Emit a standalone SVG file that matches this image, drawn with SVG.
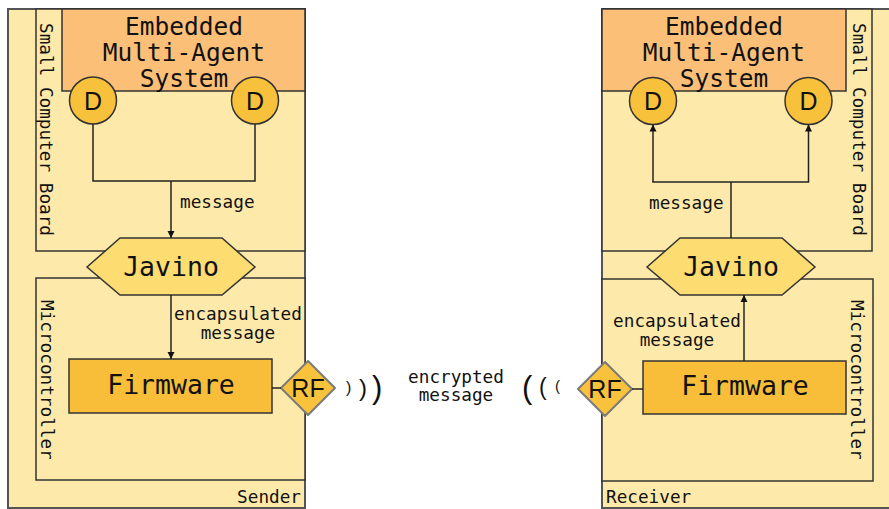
<svg xmlns="http://www.w3.org/2000/svg" width="889" height="509" viewBox="0 0 889 509">
  <defs>
    <marker id="arrow" viewBox="0 0 10 10" refX="10" refY="5" markerWidth="7" markerHeight="10" markerUnits="userSpaceOnUse" orient="auto">
      <path d="M0,0 L10,5 L0,10 Z" fill="#111"/>
    </marker>
    <style>
      .board { fill: #FDE9AA; stroke: #333; stroke-width: 1.5; }
      .outer { fill: #FDE9AA; stroke: #555; stroke-width: 2; }
      .mas { fill: #FCBF78; stroke: #333; stroke-width: 1.5; }
      .dev { fill: #F8C13B; stroke: #333; stroke-width: 1.5; }
      .fw { fill: #F8BE3A; stroke: #333; stroke-width: 1.5; }
      .jav { fill: #FDDC72; stroke: #333; stroke-width: 1.5; }
      .rf { fill: #F9C23C; stroke: #7a7a7a; stroke-width: 2; stroke-linejoin: round; }
      .wire { fill: none; stroke: #222; stroke-width: 1.5; }
      .mono { font-family: "DejaVu Sans Mono", "Liberation Mono", monospace; fill: #111; }
      .sans { font-family: "Liberation Sans", Arial, sans-serif; fill: #111; }
      .big { font-size: 24.5px; }
      .mid { font-size: 26.5px; }
      .small { font-size: 17.7px; }
      .glyph { font-size: 25px; }
      .c { text-anchor: middle; }
    </style>
  </defs>

  <!-- Sender side -->
  <g id="sender">
    <rect class="outer" x="8" y="9" width="297" height="499"/>
    <text class="mono small" x="301" y="503" text-anchor="end">Sender</text>
  </g>
  <g id="sender-board">
    <rect class="board" x="36" y="9" width="269" height="242"/>
    <text class="mono small" transform="translate(40,23) rotate(90)">Small Computer Board</text>
  </g>
  <g id="sender-mas">
    <rect class="mas" x="62" y="9" width="243" height="82"/>
    <text class="mono big c"><tspan x="184" y="35">Embedded</tspan><tspan x="184" y="61">Multi-Agent</tspan><tspan x="184" y="87">System</tspan></text>
  </g>
  <g id="sender-d1">
    <circle class="dev" cx="93" cy="100.5" r="23.5"/>
    <text class="sans glyph c" x="93" y="109.5">D</text>
  </g>
  <g id="sender-d2">
    <circle class="dev" cx="255" cy="100.5" r="23.5"/>
    <text class="sans glyph c" x="255" y="109.5">D</text>
  </g>
  <g id="sender-mcu">
    <rect class="board" x="36" y="278" width="269" height="202"/>
    <text class="mono small" transform="translate(41,300) rotate(90)">Microcontroller</text>
  </g>
  <g id="sender-firmware">
    <rect class="fw" x="69" y="359" width="203" height="54"/>
    <text class="mono mid c" x="171" y="394">Firmware</text>
  </g>
  <g id="sender-javino">
    <polygon class="jav" points="87,267 120,238 222,238 255,267 222,295 120,295"/>
    <text class="mono mid c" x="171" y="276">Javino</text>
  </g>
  <g id="sender-rf">
    <polygon class="rf" points="308,361 335,388 308,415 281,388"/>
    <text class="sans glyph c" x="308" y="397">RF</text>
  </g>

  <!-- Receiver side -->
  <g id="receiver">
    <rect class="outer" x="602" y="9" width="300" height="499"/>
    <text class="mono small" x="606" y="503">Receiver</text>
  </g>
  <g id="receiver-board">
    <rect class="board" x="602" y="9" width="270" height="242"/>
    <text class="mono small" transform="translate(853,23) rotate(90)">Small Computer Board</text>
  </g>
  <g id="receiver-mas">
    <rect class="mas" x="602" y="9" width="244" height="82"/>
    <text class="mono big c"><tspan x="724" y="35">Embedded</tspan><tspan x="724" y="61">Multi-Agent</tspan><tspan x="724" y="87">System</tspan></text>
  </g>
  <g id="receiver-d1">
    <circle class="dev" cx="653" cy="101" r="23.5"/>
    <text class="sans glyph c" x="653" y="110">D</text>
  </g>
  <g id="receiver-d2">
    <circle class="dev" cx="808.5" cy="101" r="23.5"/>
    <text class="sans glyph c" x="808.5" y="110">D</text>
  </g>
  <g id="receiver-mcu">
    <rect class="board" x="602" y="279" width="271" height="202"/>
    <text class="mono small" transform="translate(851,300) rotate(90)">Microcontroller</text>
  </g>
  <g id="receiver-firmware">
    <rect class="fw" x="643" y="361" width="203" height="53"/>
    <text class="mono mid c" x="745" y="395">Firmware</text>
  </g>
  <g id="receiver-javino">
    <polygon class="jav" points="647,267 680,238 782,238 815,267 782,295 680,295"/>
    <text class="mono mid c" x="731" y="276">Javino</text>
  </g>
  <g id="receiver-rf">
    <polygon class="rf" points="605,362 632,389 605,416 578,389"/>
    <text class="sans glyph c" x="605" y="398">RF</text>
  </g>

  <!-- Connectors -->
  <g id="connectors">
    <polyline class="wire" points="93,124 93,181 255,181 255,124"/>
    <line class="wire" x1="171" y1="181" x2="171" y2="238" marker-end="url(#arrow)"/>
    <line class="wire" x1="171" y1="295" x2="171" y2="359" marker-end="url(#arrow)"/>
    <line class="wire" x1="272" y1="388" x2="281" y2="388"/>

    <line class="wire" x1="653" y1="182" x2="653" y2="124.5" marker-end="url(#arrow)"/>
    <line class="wire" x1="808.5" y1="182" x2="808.5" y2="124.5" marker-end="url(#arrow)"/>
    <line class="wire" x1="652.3" y1="182" x2="809.2" y2="182"/>
    <line class="wire" x1="731" y1="182" x2="731" y2="238"/>
    <line class="wire" x1="744" y1="361" x2="744" y2="295" marker-end="url(#arrow)"/>
    <line class="wire" x1="632" y1="389" x2="643" y2="389"/>
  </g>

  <!-- Labels -->
  <g id="labels">
    <text class="mono small" x="180" y="208">message</text>
    <text class="mono small c"><tspan x="238" y="320">encapsulated</tspan><tspan x="238" y="339">message</tspan></text>
    <text class="mono small" x="649" y="209">message</text>
    <text class="mono small c"><tspan x="677" y="327">encapsulated</tspan><tspan x="677" y="346">message</tspan></text>
    <text class="mono small c"><tspan x="456" y="383">encrypted</tspan><tspan x="456" y="401">message</tspan></text>
  </g>

  <!-- Radio waves -->
  <g id="waves" class="sans">
    <text x="346" y="393" font-size="16">)</text>
    <text x="359" y="396" font-size="24">)</text>
    <text x="372" y="398" font-size="31">)</text>
    <text x="522" y="398" font-size="31">(</text>
    <text x="539" y="395" font-size="23">(</text>
    <text x="555" y="391" font-size="15">(</text>
  </g>
</svg>
